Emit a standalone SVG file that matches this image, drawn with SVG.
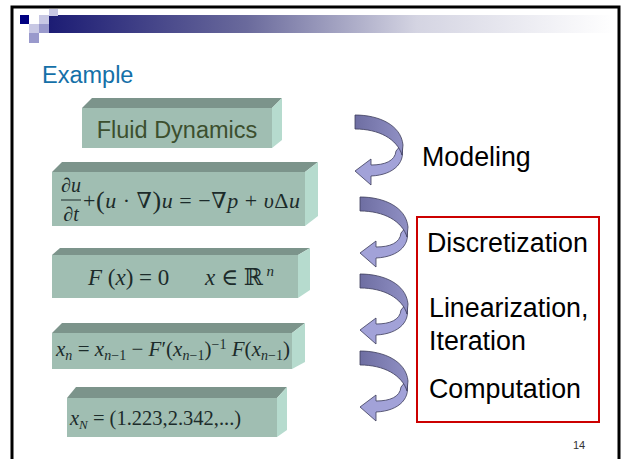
<svg xmlns="http://www.w3.org/2000/svg" width="622" height="459" viewBox="0 0 622 459">
<style>
.front{fill:#a0beb2}
.top{fill:#7c948b}
.side{fill:#b6dbce}
.lbl{font-family:"Liberation Sans",Arial,sans-serif;font-size:26.8px;fill:#000}
.math{font-family:"Liberation Serif","DejaVu Serif",serif;fill:#1c2b2a}
.it{font-style:italic}
.dark{fill:#7a7aac;stroke:#3c3c5a;stroke-width:0.8}
.light{fill:#a2a2d8;stroke:#3c3c5a;stroke-width:0.8}
</style>
<defs>
<linearGradient id="bar" x1="0" y1="0" x2="1" y2="0">
<stop offset="0" stop-color="#1c1c74"/>
<stop offset="0.35" stop-color="#6a6a9c"/>
<stop offset="0.65" stop-color="#d4d4e2"/>
<stop offset="1" stop-color="#ffffff"/>
</linearGradient>
<linearGradient id="darkg" x1="0" y1="0" x2="1" y2="0">
<stop offset="0" stop-color="#6e6ea2"/>
<stop offset="1" stop-color="#9090c4"/>
</linearGradient>
<g id="curl">
<path class="light" d="M46,30 C52,46 40,60 16,61 L16,70 L0,56 L16,44 L16,50 C30,50 40,46 41,36 Z"/>
<path class="dark" style="fill:url(#darkg)" d="M0,0 C24,0 46,10 48,30 L47,40 C42,24 24,14 0,14 Z"/>
</g>
</defs>
<rect x="0" y="0" width="622" height="459" fill="#fff"/>
<g id="header">
<rect x="49" y="15" width="565" height="18" fill="url(#bar)"/>
<rect x="49" y="9" width="9" height="7" fill="#c8c8e4"/>
<rect x="20" y="15" width="9" height="9" fill="#000080"/>
<rect x="39" y="15" width="10" height="9" fill="#c8c8e4"/>
<rect x="29" y="24" width="10" height="9" fill="#c8c8e4"/>
<rect x="39" y="24" width="10" height="9" fill="#9999cc"/>
<rect x="29" y="33" width="10" height="10" fill="#9999cc"/>
</g>
<rect id="slide-border" x="12" y="7" width="607" height="470" fill="none" stroke="#000" stroke-width="3"/>
<text id="title" x="42" y="83" font-family="'Liberation Sans',Arial,sans-serif" font-size="23.5" fill="#1470a8">Example</text>

<g id="box1">
<polygon class="top" points="82,108 92,98 282,98 272,108"/>
<polygon class="side" points="272,108 282,98 282,140 272,148"/>
<rect class="front" x="82" y="108" width="190" height="40"/>
<text x="177" y="138" text-anchor="middle" font-family="'Liberation Sans',Arial,sans-serif" font-size="23.5" fill="#3c4f2e">Fluid Dynamics</text>
</g>

<g id="box2">
<polygon class="top" points="52,172 62,162 318,162 305,172"/>
<polygon class="side" points="305,172 318,162 318,216 305,226"/>
<rect class="front" x="52" y="172" width="253" height="54"/>
<g class="math" font-size="20">
<text x="71" y="192" text-anchor="middle">∂<tspan class="it">u</tspan></text>
<line x1="61" y1="200" x2="81" y2="200" stroke="#1c2b2a" stroke-width="1"/>
<text x="71" y="221" text-anchor="middle">∂<tspan class="it">t</tspan></text>
<text x="83" y="208" font-size="22" textLength="217">+<tspan font-size="26" dy="1">(</tspan><tspan class="it" dy="-1">u</tspan> · ∇<tspan font-size="26" dy="1">)</tspan><tspan class="it" dy="-1">u</tspan> = −∇<tspan class="it">p</tspan> + <tspan class="it">υ</tspan>Δ<tspan class="it">u</tspan></text>
</g>
</g>

<g id="box3">
<polygon class="top" points="52,255 60,248 310,248 298,255"/>
<polygon class="side" points="298,255 310,248 310,290 298,298"/>
<rect class="front" x="52" y="255" width="246" height="43"/>
<g class="math" font-size="23">
<text x="88" y="285"><tspan class="it">F</tspan> (<tspan class="it">x</tspan>) = 0</text>
<text x="205" y="285"><tspan class="it">x</tspan> ∈ ℝ<tspan class="it" font-size="15" dy="-9"> n</tspan></text>
</g>
</g>

<g id="box4">
<polygon class="top" points="52,333 62,323 305,323 292,333"/>
<polygon class="side" points="292,333 305,323 305,362 292,369"/>
<rect class="front" x="52" y="333" width="240" height="36"/>
<text class="math" x="56" y="356" font-size="21" textLength="234"><tspan class="it">x</tspan><tspan class="it" font-size="14" dy="4">n</tspan><tspan dy="-4"> = </tspan><tspan class="it">x</tspan><tspan class="it" font-size="14" dy="4">n</tspan><tspan font-size="14">−1</tspan><tspan dy="-4"> − </tspan><tspan class="it">F</tspan>′(<tspan class="it">x</tspan><tspan class="it" font-size="14" dy="4">n</tspan><tspan font-size="14">−1</tspan><tspan dy="-4">)</tspan><tspan font-size="14" dy="-7">−1</tspan><tspan class="it" dy="7"> F</tspan>(<tspan class="it">x</tspan><tspan class="it" font-size="14" dy="4">n</tspan><tspan font-size="14">−1</tspan><tspan dy="-4">)</tspan></text>
</g>

<g id="box5">
<polygon class="top" points="67,398 76,387 287,387 277,398"/>
<polygon class="side" points="277,398 287,387 287,430 277,437"/>
<rect class="front" x="67" y="398" width="210" height="39"/>
<text class="math" x="70" y="425" font-size="20.5"><tspan class="it">x</tspan><tspan class="it" font-size="13" dy="4">N</tspan><tspan dy="-4"> = (1.223,2.342,...)</tspan></text>
</g>

<g id="connectors">
<use href="#curl" x="355" y="115"/>
<use href="#curl" x="360" y="197"/>
<use href="#curl" x="360" y="274"/>
<use href="#curl" x="360" y="351"/>
</g>

<g id="labels">
<text class="lbl" x="422" y="166">Modeling</text>
<rect x="417" y="217" width="182" height="205" fill="none" stroke="#cc0000" stroke-width="2"/>
<text class="lbl" x="427" y="252">Discretization</text>
<text class="lbl" x="429" y="317">Linearization,</text>
<text class="lbl" x="429" y="350">Iteration</text>
<text class="lbl" x="429" y="398">Computation</text>
</g>
<text id="page-number" x="573" y="449" font-family="'Liberation Sans',Arial,sans-serif" font-size="11" fill="#333">14</text>
</svg>
